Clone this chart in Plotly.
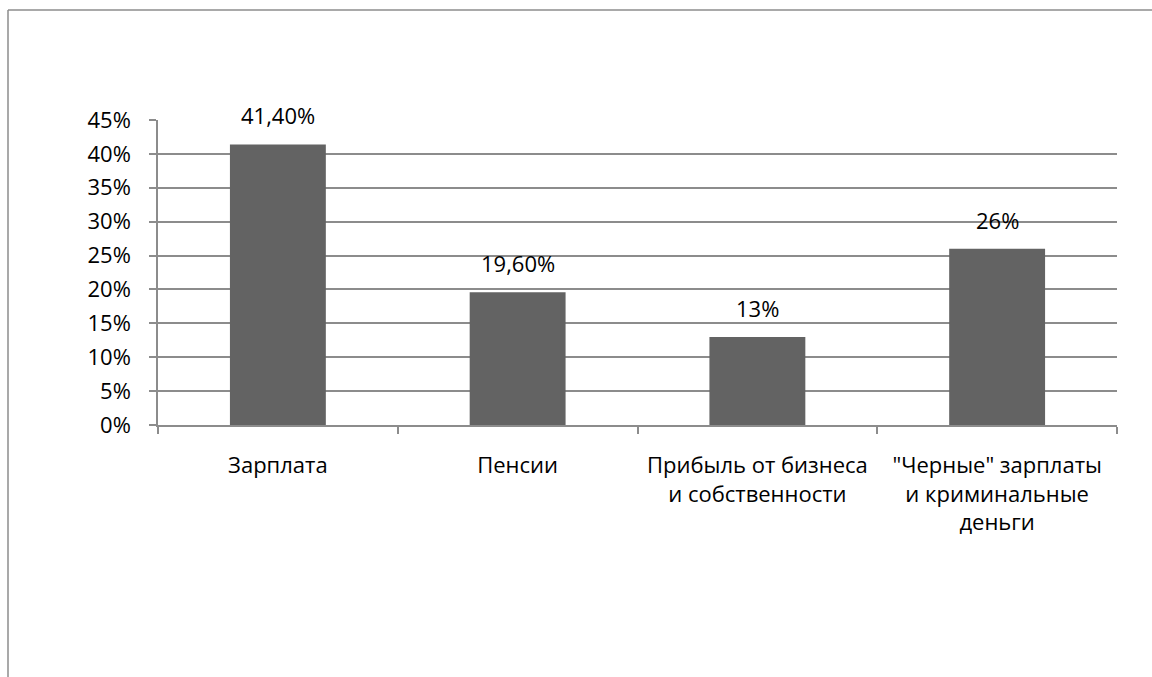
import plotly.graph_objects as go

categories = ["Зарплата", "Пенсии", "Прибыль от бизнеса<br>и собственности",
              "\"Черные\" зарплаты<br>и криминальные<br>деньги"]
values = [41.4, 19.6, 13, 26]
value_labels = ["41,40%", "19,60%", "13%", "26%"]
tick_vals = [0, 5, 10, 15, 20, 25, 30, 35, 40, 45]
tick_text = ["0%", "5%", "10%", "15%", "20%", "25%", "30%", "35%", "40%", "45%"]

W, H = 1152, 677
L, R, T, B = 158, 1117, 120, 425

def px_x(p):
    return (p - L) / (R - L)

def px_y(p):
    return (B - p) / (B - T)

FONT = "Open Sans, Lato, sans-serif"
FS = 22

fig = go.Figure(go.Bar(
    x=categories, y=values,
    marker=dict(color="#636363", line=dict(width=0)), width=0.4,
))

annotations = [
    dict(x=c, y=v, text=t, xref="x", yref="y", showarrow=False,
         yanchor="bottom", yshift=12, font=dict(size=FS, color="#000000", family=FONT))
    for c, v, t in zip(categories, values, value_labels)
]

fig.update_layout(
    width=W, height=H,
    margin=dict(l=L, r=W - R, t=T, b=H - B),
    plot_bgcolor="white", paper_bgcolor="white",
    font=dict(family=FONT, size=FS, color="#000000"),
    showlegend=False,
    annotations=annotations,
    shapes=[
        dict(type="line", xref="paper", yref="paper", x0=px_x(8), x1=px_x(1160),
             y0=px_y(10), y1=px_y(10), line=dict(color="#8c8c8c", width=1.5)),
        dict(type="line", xref="paper", yref="paper", x0=px_x(8), x1=px_x(8),
             y0=px_y(10), y1=px_y(690), line=dict(color="#8c8c8c", width=1.5)),
    ],
)
fig.update_yaxes(range=[0, 45], tickvals=tick_vals, ticktext=tick_text,
                 showgrid=True, gridcolor="#8c8c8c", gridwidth=1.5,
                 showline=True, linecolor="#8c8c8c", linewidth=1.5,
                 ticks="outside", ticklen=7, tickcolor="#8c8c8c", tickwidth=1.5,
                 zeroline=False, ticklabelstandoff=14)
fig.update_xaxes(showline=True, linecolor="#8c8c8c", linewidth=1.5,
                 ticks="outside", tickson="boundaries", ticklen=7,
                 tickcolor="#8c8c8c", tickwidth=1.5, showgrid=False,
                 ticklabelstandoff=20, tickangle=0)

fig.write_html("out.html", config={"displayModeBar": False},
               post_script="document.body.style.margin='0';document.body.style.overflow='hidden';")
